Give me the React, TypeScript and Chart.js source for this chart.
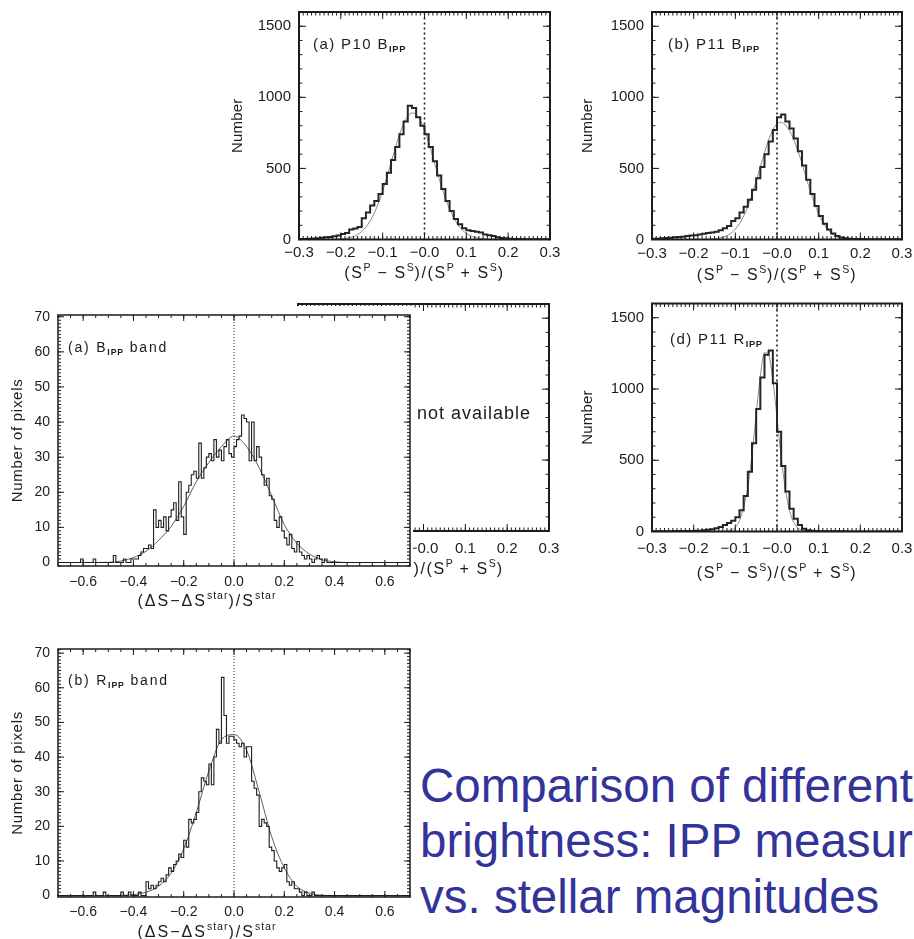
import React, { useEffect, useRef } from 'react';
import { Chart, registerables } from 'chart.js';

Chart.register(...registerables);

const FONT = '"Liberation Sans", Arial, "DejaVu Sans", sans-serif';
const INK = '#1c1c1c';

// ---------------- data ----------------
// top row / right column panels: bins of 0.01 from -0.30
const TOP_BIN_START = -0.3;
const TOP_BIN_WIDTH = 0.01;
const P10_B_COUNTS = [
  3, 4, 5, 7, 9, 12, 15, 18, 22, 28,
  38, 45, 70, 78, 88, 150, 190, 240, 270, 320,
  390, 470, 560, 650, 740, 830, 940, 925, 860, 800,
  740, 650, 550, 450, 355, 270, 200, 145, 108, 80,
  65, 60, 55, 50, 35, 30, 25, 15, 10, 8,
  5, 4, 3, 3, 2, 2, 2, 1, 1, 1,
];
const P11_B_COUNTS = [
  5, 6, 8, 10, 12, 15, 18, 20, 25, 28,
  30, 35, 40, 45, 50, 55, 65, 80, 95, 130,
  150, 190, 230, 280, 350, 430, 510, 600, 690, 770,
  860, 880, 830, 780, 710, 620, 520, 420, 320, 235,
  165, 110, 70, 42, 25, 14, 9, 6, 4, 3,
  3, 2, 2, 2, 1, 1, 1, 1, 1, 1,
];
const P11_R_COUNTS = [
  1, 1, 2, 2, 2, 3, 3, 3, 4, 4,
  5, 6, 8, 12, 15, 22, 32, 45, 60, 75,
  100, 150, 250, 420, 620, 860, 1080, 1240, 1270, 1040,
  700, 460, 280, 160, 90, 45, 20, 8, 5, 3,
  2, 2, 1, 1, 1, 1, 0, 0, 0, 0,
  0, 0, 0, 0, 0, 0, 0, 0, 0, 0,
];
// fitted gaussians, sampled every 0.01 from -0.30 to 0.30
const TOP_FIT_START = -0.3;
const TOP_FIT_STEP = 0.01;
const P10_B_FIT = [
  0, 0, 0, 0, 0, 0, 0.3, 0.7, 1.2, 2.2,
  3.7, 7, 12, 21, 35, 57, 87, 130, 186, 257,
  341, 437, 540, 642, 736, 814, 867, 890, 880, 838,
  770, 681, 581, 478, 379, 289, 213, 151, 103, 68,
  43, 26, 15.5, 9, 5, 2.6, 1.3, 0.6, 0.3, 0,
  0, 0, 0, 0, 0, 0, 0, 0, 0, 0, 0,
];
const P11_B_FIT = [
  0, 0, 0, 0, 0, 0, 0, 0, 0, 0,
  0.1, 0.2, 0.5, 1.1, 2.3, 4.5, 8.6, 15.6, 27, 45,
  73, 112, 165, 232, 315, 410, 511, 611, 701, 771,
  814, 825, 805, 765, 705, 625, 535, 435, 340, 255,
  180, 120, 76, 45, 25, 13, 6.5, 3, 1.4, 0.6,
  0.3, 0.1, 0, 0, 0, 0, 0, 0, 0, 0, 0,
];
const P11_R_FIT = [
  0, 0, 0, 0, 0, 0, 0, 0, 0, 0,
  0, 0, 0, 0, 0, 0, 0, 0.8, 3, 10,
  30, 76, 172, 310, 540, 820, 1090, 1256, 1239, 1065,
  799, 522, 298, 148, 64, 24, 8, 2.3, 0.6, 0,
  0, 0, 0, 0, 0, 0, 0, 0, 0, 0,
  0, 0, 0, 0, 0, 0, 0, 0, 0, 0, 0,
];

// left column panels: bins of 0.01 from -0.70
const BAND_BIN_START = -0.7;
const BAND_BIN_WIDTH = 0.01;
const B_BAND_COUNTS = [
  0, 0, 0, 0, 0, 0, 0, 0, 0, 1,
  0, 0, 0, 0, 1, 0, 0, 0, 0, 0,
  0, 0, 2, 0, 0, 0, 1, 0, 0, 1,
  1, 1, 2, 3, 4, 4, 5, 4, 15, 10,
  12, 10, 13, 9, 13, 15, 17, 12, 23, 13,
  8, 20, 22, 25, 26, 24, 34, 24, 27, 30,
  31, 29, 35, 30, 32, 29, 33, 35, 31, 30,
  33, 35, 36, 42, 41, 40, 29, 40, 29, 33,
  30, 25, 22, 24, 19, 18, 12, 10, 13, 9,
  7, 5, 8, 4, 3, 6, 3, 2, 1, 2,
  1, 0, 1, 2, 1, 0, 1, 0, 0, 0,
  0, 0, 0, 0, 0, 0, 0, 0, 0, 0,
  0, 0, 0, 0, 0, 0, 0, 0, 0, 0,
  0, 0, 0, 0, 0, 0, 0, 0, 0, 0,
];
const R_BAND_COUNTS = [
  0, 0, 0, 0, 0, 0, 0, 0, 0, 0,
  0, 0, 0, 0, 1, 0, 0, 0, 1, 0,
  0, 0, 0, 0, 0, 1, 0, 0, 1, 0,
  0, 0, 1, 0, 0, 4, 2, 3, 2, 3,
  4, 5, 4, 6, 8, 7, 9, 10, 12, 11,
  16, 14, 22, 21, 22, 24, 30, 34, 33, 32,
  38, 32, 40, 48, 44, 63, 52, 44, 46, 46,
  45, 44, 43, 44, 40, 43, 43, 33, 31, 29,
  20, 22, 21, 20, 14, 13, 10, 8, 7, 8,
  9, 4, 3, 4, 2, 2, 1, 0, 1, 0,
  0, 1, 0, 0, 0, 0, 0, 0, 0, 0,
  0, 0, 0, 0, 0, 0, 0, 0, 0, 0,
  0, 0, 0, 0, 0, 0, 0, 0, 0, 0,
  0, 0, 0, 0, 0, 0, 0, 0, 0, 0,
];
// fitted gaussians, sampled every 0.05 from -0.70 to 0.70
const BAND_FIT_START = -0.7;
const BAND_FIT_STEP = 0.05;
const B_BAND_FIT = [
  0, 0, 0, 0, 0.05, 0.4, 1.4, 3.2, 6.3, 10.3,
  16, 23, 28.5, 33, 36, 33, 27, 19, 10.8, 5.5,
  2.4, 0.8, 0.2, 0, 0, 0, 0, 0, 0,
];
const R_BAND_FIT = [
  0, 0, 0, 0, 0, 0.05, 0.3, 1.0, 2.7, 6.5,
  13.5, 24, 36, 45, 46.5, 42, 30, 17, 8, 2.7,
  0.7, 0.1, 0, 0, 0, 0, 0, 0, 0,
];

// tick values and labels
const TOP_X_TICKS = [-0.3, -0.2, -0.1, 0, 0.1, 0.2, 0.3];
const TOP_X_LABELS = ['\u22120.3', '\u22120.2', '\u22120.1', '\u22120.0', '0.1', '0.2', '0.3'];
const TOP_Y_TICKS = [0, 500, 1000, 1500];
const TOP_Y_LABELS = ['0', '500', '1000', '1500'];
const BAND_X_TICKS = [-0.6, -0.4, -0.2, 0, 0.2, 0.4, 0.6];
const BAND_X_LABELS = ['\u22120.6', '\u22120.4', '\u22120.2', '0.0', '0.2', '0.4', '0.6'];
const BAND_Y_TICKS = [0, 10, 20, 30, 40, 50, 60, 70];
const BAND_Y_LABELS = ['0', '10', '20', '30', '40', '50', '60', '70'];

const SLIDE_LINES = ['Comparison of different', 'brightness: IPP measurements', 'vs. stellar magnitudes'];

// ---------------- drawing helpers ----------------
type Seg = { t: string; s?: 'sup' | 'sub' };

const SP_TITLE: Seg[] = [
  { t: '(S' }, { t: 'P', s: 'sup' }, { t: ' \u2212 S' }, { t: 'S', s: 'sup' },
  { t: ')/(S' }, { t: 'P', s: 'sup' }, { t: ' + S' }, { t: 'S', s: 'sup' }, { t: ')' },
];
const DS_TITLE: Seg[] = [
  { t: '(\u0394S\u2212\u0394S' }, { t: 'star', s: 'sup' }, { t: ')/S' }, { t: 'star', s: 'sup' },
];

function segFont(seg: Seg, size: number) {
  if (seg.s === 'sub') return `bold ${size * 0.62}px ${FONT}`;
  if (seg.s === 'sup') return `${size * 0.66}px ${FONT}`;
  return `${size}px ${FONT}`;
}

function drawRich(ctx: any, segs: Seg[], x: number, y: number, size: number, align: 'left' | 'center', spacing: number) {
  ctx.save();
  ctx.fillStyle = INK;
  ctx.textBaseline = 'alphabetic';
  ctx.textAlign = 'left';
  const widths = segs.map((s) => {
    ctx.font = segFont(s, size);
    ctx.letterSpacing = `${s.s ? spacing * 0.5 : spacing}px`;
    return ctx.measureText(s.t).width;
  });
  const total = widths.reduce((a, b) => a + b, 0);
  let cx = align === 'center' ? x - total / 2 : x;
  segs.forEach((s, i) => {
    ctx.font = segFont(s, size);
    ctx.letterSpacing = `${s.s ? spacing * 0.5 : spacing}px`;
    const dy = s.s === 'sup' ? -0.42 * size : s.s === 'sub' ? 0.24 * size : 0;
    ctx.fillText(s.t, cx, y + dy);
    cx += widths[i];
  });
  ctx.letterSpacing = '0px';
  ctx.restore();
}

interface Panel {
  key: string;
  box: { left: number; top: number; width: number; height: number };
  padTop: number; padRight: number; yAxisW: number; xAxisH: number;
  xRange: [number, number]; yRange: [number, number];
  xTicks: number[]; xLabels: string[]; yTicks: number[]; yLabels: string[];
  xMinor: number; yMinor: number; majorLen: number; minorLen: number;
  tickSize: number; xPad: number; yPad: number; frameW: number;
  hist?: { start: number; width: number; counts: number[]; color: string; lw: number };
  fit?: { start: number; step: number; values: number[]; color: string; lw: number };
  zero?: { dash: number[]; lw: number };
  label?: { segs: Seg[]; dx: number; dy: number; size: number; spacing: number };
  note?: { text: string; dx: number; dy: number; size: number; spacing: number };
  xTitle: { segs: Seg[]; dx: number; dy: number; size: number; spacing: number };
  yTitle: { text: string; x: number; size: number; spacing: number };
}

function framePlugin(p: Panel) {
  return {
    id: 'idlFrame',
    afterDatasetsDraw(chart: any) {
      const { ctx, chartArea: a, scales } = chart;
      const xs = scales.x;
      const ys = scales.y;
      ctx.save();
      ctx.strokeStyle = INK;
      ctx.lineWidth = p.frameW;
      ctx.strokeRect(a.left, a.top, a.right - a.left, a.bottom - a.top);
      ctx.lineWidth = 1;
      ctx.beginPath();
      const tx = (v: number, len: number) => {
        const px = xs.getPixelForValue(v);
        ctx.moveTo(px, a.bottom); ctx.lineTo(px, a.bottom - len);
        ctx.moveTo(px, a.top); ctx.lineTo(px, a.top + len);
      };
      const ty = (v: number, len: number) => {
        const py = ys.getPixelForValue(v);
        ctx.moveTo(a.left, py); ctx.lineTo(a.left + len, py);
        ctx.moveTo(a.right, py); ctx.lineTo(a.right - len, py);
      };
      const [x0, x1] = p.xRange;
      for (let k = Math.ceil(x0 / p.xMinor - 1e-6); k <= Math.floor(x1 / p.xMinor + 1e-6); k++) tx(k * p.xMinor, p.minorLen);
      const [y0, y1] = p.yRange;
      for (let k = Math.ceil(y0 / p.yMinor - 1e-6); k <= Math.floor(y1 / p.yMinor + 1e-6); k++) ty(k * p.yMinor, p.minorLen);
      p.xTicks.forEach((v) => tx(v, p.majorLen));
      p.yTicks.forEach((v) => ty(v, p.majorLen));
      ctx.stroke();
      ctx.restore();

      if (p.label) {
        drawRich(ctx, p.label.segs, a.left + p.label.dx, a.top + p.label.dy, p.label.size, 'left', p.label.spacing);
      }
      if (p.note) {
        drawRich(ctx, [{ t: p.note.text }], a.left + p.note.dx, a.top + p.note.dy, p.note.size, 'left', p.note.spacing);
      }
      const t = p.xTitle;
      drawRich(ctx, t.segs, (a.left + a.right) / 2 + t.dx, a.bottom + t.dy, t.size, 'center', t.spacing);

      ctx.save();
      ctx.fillStyle = INK;
      ctx.font = `${p.yTitle.size}px ${FONT}`;
      ctx.letterSpacing = `${p.yTitle.spacing}px`;
      ctx.translate(p.yTitle.x, (a.top + a.bottom) / 2);
      ctx.rotate(-Math.PI / 2);
      ctx.textAlign = 'center';
      ctx.textBaseline = 'middle';
      ctx.fillText(p.yTitle.text, 0, 0);
      ctx.letterSpacing = '0px';
      ctx.restore();
    },
  };
}

function buildConfig(p: Panel): any {
  const datasets: any[] = [];
  if (p.hist) {
    const h = p.hist;
    // points on the left edge of every bin, plus the right edge of the last bin
    const pts = h.counts.map((c, i) => ({ x: h.start + i * h.width, y: c }));
    pts.push({ x: h.start + h.counts.length * h.width, y: h.counts[h.counts.length - 1] });
    datasets.push({ data: pts, stepped: 'before', borderColor: h.color, borderWidth: h.lw, pointRadius: 0, fill: false, order: 0 });
  }
  if (p.fit) {
    const f = p.fit;
    const pts = f.values.map((v, i) => ({ x: f.start + i * f.step, y: v }));
    datasets.push({ data: pts, borderColor: f.color, borderWidth: f.lw, pointRadius: 0, fill: false, cubicInterpolationMode: 'monotone', order: 1 });
  }
  if (p.zero) {
    datasets.push({
      data: [{ x: 0, y: p.yRange[0] }, { x: 0, y: p.yRange[1] }],
      borderColor: INK, borderWidth: p.zero.lw, borderDash: p.zero.dash, pointRadius: 0, fill: false, order: 2,
    });
  }
  const zeroPad = (s: any) => { s.paddingLeft = 0; s.paddingRight = 0; s.paddingTop = 0; s.paddingBottom = 0; };
  return {
    type: 'line',
    data: { datasets },
    options: {
      animation: false,
      responsive: false,
      maintainAspectRatio: false,
      events: [],
      layout: { padding: { top: p.padTop, right: p.padRight, left: 0, bottom: 0 } },
      plugins: { legend: { display: false }, tooltip: { enabled: false }, title: { display: false } },
      scales: {
        x: {
          type: 'linear', min: p.xRange[0], max: p.xRange[1],
          afterBuildTicks: (s: any) => { s.ticks = p.xTicks.map((v) => ({ value: v })); },
          afterFit: (s: any) => { s.height = p.xAxisH; zeroPad(s); },
          grid: { display: false, drawTicks: false },
          border: { display: false },
          ticks: {
            autoSkip: false, maxRotation: 0, minRotation: 0, padding: p.xPad, color: INK,
            font: { family: FONT, size: p.tickSize },
            callback: (_v: any, i: number) => p.xLabels[i],
          },
        },
        y: {
          type: 'linear', min: p.yRange[0], max: p.yRange[1],
          afterBuildTicks: (s: any) => { s.ticks = p.yTicks.map((v) => ({ value: v })); },
          afterFit: (s: any) => { s.width = p.yAxisW; zeroPad(s); },
          grid: { display: false, drawTicks: false },
          border: { display: false },
          ticks: {
            autoSkip: false, padding: p.yPad, color: INK,
            font: { family: FONT, size: p.tickSize },
            callback: (_v: any, i: number) => p.yLabels[i],
          },
        },
      },
    },
    plugins: [framePlugin(p)],
  };
}

// ---------------- panel definitions ----------------
const topBase = {
  xRange: [-0.3, 0.3] as [number, number], yRange: [0, 1600] as [number, number],
  xTicks: TOP_X_TICKS, xLabels: TOP_X_LABELS, yTicks: TOP_Y_TICKS, yLabels: TOP_Y_LABELS,
  xMinor: 0.01, yMinor: 100, majorLen: 7, minorLen: 3.5, tickSize: 15, yPad: 8, frameW: 2,
  zero: { dash: [2, 3], lw: 1.6 },
};
const bandBase = {
  xRange: [-0.7, 0.7] as [number, number],
  xTicks: BAND_X_TICKS, xLabels: BAND_X_LABELS, yTicks: BAND_Y_TICKS, yLabels: BAND_Y_LABELS,
  xMinor: 0.05, yMinor: 1, majorLen: 6, minorLen: 3, tickSize: 14, yPad: 8, frameW: 1.5,
  zero: { dash: [1, 2], lw: 1 },
};
const HIST_TOP = '#252525';
const FIT_TOP = '#8a8a8a';
const HIST_BAND = '#1e1e1e';
const FIT_BAND = '#5e5e5e';

const PANELS: Panel[] = [
  {
    ...topBase, key: 'p10b',
    box: { left: 225, top: 0, width: 340, height: 290 },
    padTop: 12, padRight: 15, yAxisW: 74, xAxisH: 50.5, xPad: 4.2,
    hist: { start: TOP_BIN_START, width: TOP_BIN_WIDTH, counts: P10_B_COUNTS, color: HIST_TOP, lw: 2 },
    fit: { start: TOP_FIT_START, step: TOP_FIT_STEP, values: P10_B_FIT, color: FIT_TOP, lw: 1 },
    label: { segs: [{ t: '(a) P10 B' }, { t: 'IPP', s: 'sub' }], dx: 14, dy: 36.5, size: 15, spacing: 1.4 },
    xTitle: { segs: SP_TITLE, dx: 0, dy: 38.5, size: 16, spacing: 1.6 },
    yTitle: { text: 'Number', x: 13, size: 15, spacing: 0.2 },
  },
  {
    ...topBase, key: 'p11b',
    box: { left: 578, top: 0, width: 336, height: 290 },
    padTop: 12, padRight: 12, yAxisW: 74, xAxisH: 50.5, xPad: 5.5,
    hist: { start: TOP_BIN_START, width: TOP_BIN_WIDTH, counts: P11_B_COUNTS, color: HIST_TOP, lw: 2 },
    fit: { start: TOP_FIT_START, step: TOP_FIT_STEP, values: P11_B_FIT, color: FIT_TOP, lw: 1 },
    label: { segs: [{ t: '(b) P11 B' }, { t: 'IPP', s: 'sub' }], dx: 16, dy: 36.5, size: 15, spacing: 1.4 },
    xTitle: { segs: SP_TITLE, dx: 0, dy: 40, size: 16, spacing: 1.6 },
    yTitle: { text: 'Number', x: 10, size: 15, spacing: 0.2 },
  },
  {
    ...topBase, key: 'p10r', zero: undefined,
    box: { left: 225, top: 290, width: 340, height: 290 },
    padTop: 14, padRight: 16, yAxisW: 73, xAxisH: 49, xPad: 9,
    note: { text: 'not available', dx: 119, dy: 115, size: 18, spacing: 1 },
    xTitle: { segs: SP_TITLE, dx: 0, dy: 43, size: 16, spacing: 1.6 },
    yTitle: { text: 'Number', x: 13, size: 15, spacing: 0.2 },
  },
  {
    ...topBase, key: 'p11r',
    box: { left: 578, top: 290, width: 336, height: 300 },
    padTop: 13.5, padRight: 12, yAxisW: 74, xAxisH: 58.5, xPad: 8.3,
    hist: { start: TOP_BIN_START, width: TOP_BIN_WIDTH, counts: P11_R_COUNTS, color: HIST_TOP, lw: 2 },
    fit: { start: TOP_FIT_START, step: TOP_FIT_STEP, values: P11_R_FIT, color: FIT_TOP, lw: 1 },
    label: { segs: [{ t: '(d) P11 R' }, { t: 'IPP', s: 'sub' }], dx: 18, dy: 40, size: 15, spacing: 1.4 },
    xTitle: { segs: SP_TITLE, dx: 0, dy: 46, size: 16, spacing: 1.6 },
    yTitle: { text: 'Number', x: 10, size: 15, spacing: 0.2 },
  },
  {
    ...bandBase, key: 'bband', yRange: [-1, 70.5],
    box: { left: 0, top: 306, width: 413, height: 306 },
    padTop: 9, padRight: 3, yAxisW: 58, xAxisH: 46, xPad: 7.4,
    hist: { start: BAND_BIN_START, width: BAND_BIN_WIDTH, counts: B_BAND_COUNTS, color: HIST_BAND, lw: 1.1 },
    fit: { start: BAND_FIT_START, step: BAND_FIT_STEP, values: B_BAND_FIT, color: FIT_BAND, lw: 1 },
    label: { segs: [{ t: '(a) B' }, { t: 'IPP', s: 'sub' }, { t: ' band' }], dx: 10, dy: 37, size: 14, spacing: 1.8 },
    xTitle: { segs: DS_TITLE, dx: -27, dy: 39.5, size: 16, spacing: 2 },
    yTitle: { text: 'Number of pixels', x: 18, size: 15, spacing: 0.7 },
  },
  {
    ...bandBase, key: 'rband', yRange: [-0.4, 71.2],
    box: { left: 0, top: 638, width: 413, height: 301 },
    padTop: 11, padRight: 3, yAxisW: 58, xAxisH: 42, xPad: 7.1,
    hist: { start: BAND_BIN_START, width: BAND_BIN_WIDTH, counts: R_BAND_COUNTS, color: HIST_BAND, lw: 1.1 },
    fit: { start: BAND_FIT_START, step: BAND_FIT_STEP, values: R_BAND_FIT, color: FIT_BAND, lw: 1 },
    label: { segs: [{ t: '(b) R' }, { t: 'IPP', s: 'sub' }, { t: ' band' }], dx: 10, dy: 36, size: 14, spacing: 1.8 },
    xTitle: { segs: DS_TITLE, dx: -27, dy: 39.5, size: 16, spacing: 2 },
    yTitle: { text: 'Number of pixels', x: 18, size: 15, spacing: 0.7 },
  },
];

function PanelChart({ p }: { p: Panel }) {
  const ref = useRef<HTMLCanvasElement | null>(null);
  useEffect(() => {
    if (!ref.current) return;
    const chart = new Chart(ref.current, buildConfig(p));
    return () => chart.destroy();
  }, [p]);
  return (
    <canvas
      ref={ref}
      width={p.box.width}
      height={p.box.height}
      style={{
        position: 'absolute', left: p.box.left, top: p.box.top,
        width: p.box.width, height: p.box.height, background: '#ffffff', display: 'block',
      }}
    />
  );
}

export default function App() {
  return (
    <div style={{ position: 'fixed', left: 0, top: 0, width: 914, height: 939, overflow: 'hidden', background: '#ffffff' }}>
      {PANELS.map((p) => <PanelChart key={p.key} p={p} />)}
      <div
        style={{
          position: 'absolute', left: 420, top: 757.5, fontFamily: FONT, fontSize: 47.5,
          lineHeight: '55.5px', color: '#333399', whiteSpace: 'nowrap',
        }}
      >
        {SLIDE_LINES.map((l) => <div key={l}>{l}</div>)}
      </div>
    </div>
  );
}
